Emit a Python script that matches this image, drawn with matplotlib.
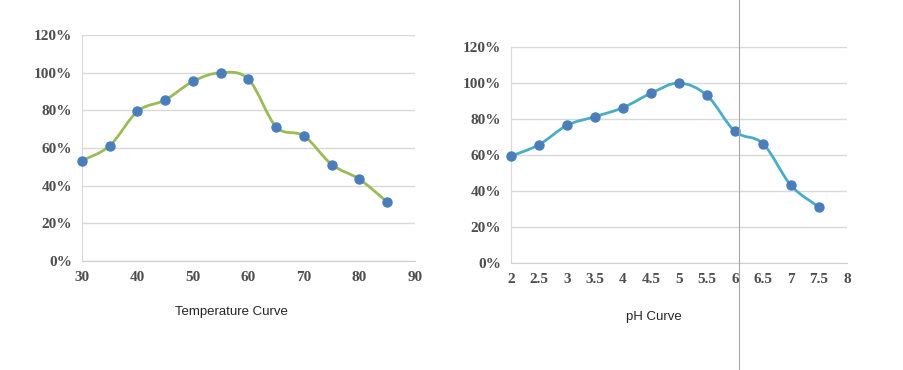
import numpy as np
import matplotlib
matplotlib.use('Agg')
import matplotlib.pyplot as plt
from matplotlib.path import Path
from matplotlib.patches import PathPatch
from matplotlib.ticker import FuncFormatter

# temperature curve data
temp_x = [30, 35, 40, 45, 50, 55, 60, 65, 70, 75, 80, 85]
temp_y = [53.3, 61.2, 79.5, 85.5, 95.4, 100, 96.5, 71.2, 66.4, 51.2, 43.4, 31.3]

# pH curve data
ph_x = [2, 2.5, 3, 3.5, 4, 4.5, 5, 5.5, 6, 6.5, 7, 7.5]
ph_y = [59.4, 65.7, 76.5, 81.3, 86.3, 94.3, 100, 93.1, 73.1, 66.3, 43.1, 31.1]


def smooth_path(xs, ys):
    # excel-like smoothed line, catmull-rom to bezier segments
    xs = np.asarray(xs, float)
    ys = np.asarray(ys, float)
    verts = [(xs[0], ys[0])]
    codes = [Path.MOVETO]
    n = len(xs)
    for i in range(n - 1):
        p0 = (xs[max(i - 1, 0)], ys[max(i - 1, 0)])
        p1 = (xs[i], ys[i])
        p2 = (xs[i + 1], ys[i + 1])
        p3 = (xs[min(i + 2, n - 1)], ys[min(i + 2, n - 1)])
        c1 = (p1[0] + (p2[0] - p0[0]) / 6, p1[1] + (p2[1] - p0[1]) / 6)
        c2 = (p2[0] - (p3[0] - p1[0]) / 6, p2[1] - (p3[1] - p1[1]) / 6)
        verts += [c1, c2, p2]
        codes += [Path.CURVE4] * 3
    return Path(verts, codes)


def draw_panel(ax, xs, ys, line_color, xlim, xticks, title, title_x, title_y, xfmt):
    ax.add_patch(PathPatch(smooth_path(xs, ys), facecolor='none',
                           edgecolor=line_color, lw=2, zorder=2))
    ax.plot(xs, ys, 'o', color='#4a7ebb', ms=6.5, zorder=3, clip_on=False)
    ax.set_xlim(*xlim)
    ax.set_ylim(0, 120)
    ax.set_xticks(xticks)
    ax.set_yticks(range(0, 121, 20))
    ax.yaxis.set_major_formatter(FuncFormatter(lambda v, p: '%d%%' % v))
    ax.xaxis.set_major_formatter(FuncFormatter(xfmt))
    ax.grid(axis='y', color='#d9d9d9', lw=1)
    ax.set_axisbelow(True)
    for s in ['top', 'right']:
        ax.spines[s].set_visible(False)
    ax.spines['left'].set_color('#d9d9d9')
    ax.spines['bottom'].set_color('#d0d0d0')
    ax.tick_params(length=0, pad=7, labelsize=11, labelcolor='#4d4d4d')
    for lab in ax.get_xticklabels() + ax.get_yticklabels():
        lab.set_family('Liberation Serif')
        lab.set_fontweight('bold')
    ax.text(title_x, title_y, title, ha='center', va='center', fontsize=9.5,
            family='Liberation Sans', color='#262626',
            transform=ax.transData, clip_on=False)


fig = plt.figure(figsize=(9.04, 3.70), dpi=100)

ax1 = fig.add_axes([82 / 904, 1 - 261 / 370, 333 / 904, 226 / 370])
draw_panel(ax1, temp_x, temp_y, '#9bbb59', (30, 90), range(30, 91, 10),
           'Temperature Curve', 57, -27, lambda v, p: '%d' % v)

ax2 = fig.add_axes([511 / 904, 1 - 263 / 370, 336 / 904, 216 / 370])
draw_panel(ax2, ph_x, ph_y, '#4bacc6', (2, 8), np.arange(2, 8.01, 0.5),
           'pH Curve', 4.56, -30, lambda v, p: ('%g' % v))

# thin vertical line across the picture
fig.add_artist(plt.Line2D([739 / 904, 739 / 904], [0, 1], color='#a6a6a6',
                          lw=0.8, transform=fig.transFigure))

fig.savefig('out.png', dpi=100, facecolor='white')
